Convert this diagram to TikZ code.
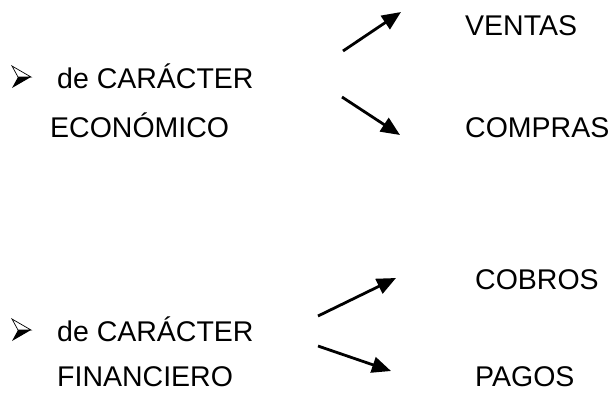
\documentclass[tikz,border=0pt]{standalone}
\usepackage{fontspec}
\setmainfont{Liberation Sans}
\usetikzlibrary{arrows.meta}
\begin{document}
\begin{tikzpicture}[x=1pt,y=-1pt,
  lbl/.style={anchor=base west,inner sep=0pt,text depth=0pt,font=\fontsize{28.5}{34}\selectfont},
  arr/.style={line width=2.8pt,-{Triangle[length=19pt,width=16pt]}},
  bullettop/.style={draw=black,line width=0.7pt,fill=white,line join=miter},
  bulletbot/.style={fill=black}]
\useasboundingbox (0,0) rectangle (613,392);
% top group
\node[lbl] (ec1) at (57,88) {de CARÁCTER};
\node[lbl] (ec2) at (50,137) {ECONÓMICO};
\node[lbl] (ventas) at (465,35) {VENTAS};
\node[lbl] (compras) at (465,137) {COMPRAS};
\coordinate (a1s) at (343,51);
\coordinate (a1e) at (401,12);
\coordinate (a2s) at (342,97);
\coordinate (a2e) at (400,135);
\draw[arr] (a1s) -- (a1e);
\draw[arr] (a2s) -- (a2e);
\path[bullettop] (12,66) -- (31,77) -- (18,77) -- cycle;
\path[bulletbot] (18,77) -- (31,77) -- (12,88) -- cycle;
% bottom group
\node[lbl] (fi1) at (57,341) {de CARÁCTER};
\node[lbl] (fi2) at (57,386) {FINANCIERO};
\node[lbl] (cobros) at (475,289) {COBROS};
\node[lbl] (pagos) at (475,386) {PAGOS};
\coordinate (b1s) at (318,316);
\coordinate (b1e) at (396,278);
\coordinate (b2s) at (318,346);
\coordinate (b2e) at (391,371);
\draw[arr] (b1s) -- (b1e);
\draw[arr] (b2s) -- (b2e);
\path[bullettop] (12,319) -- (31,330) -- (18,330) -- cycle;
\path[bulletbot] (18,330) -- (31,330) -- (12,341) -- cycle;
\end{tikzpicture}
\end{document}
